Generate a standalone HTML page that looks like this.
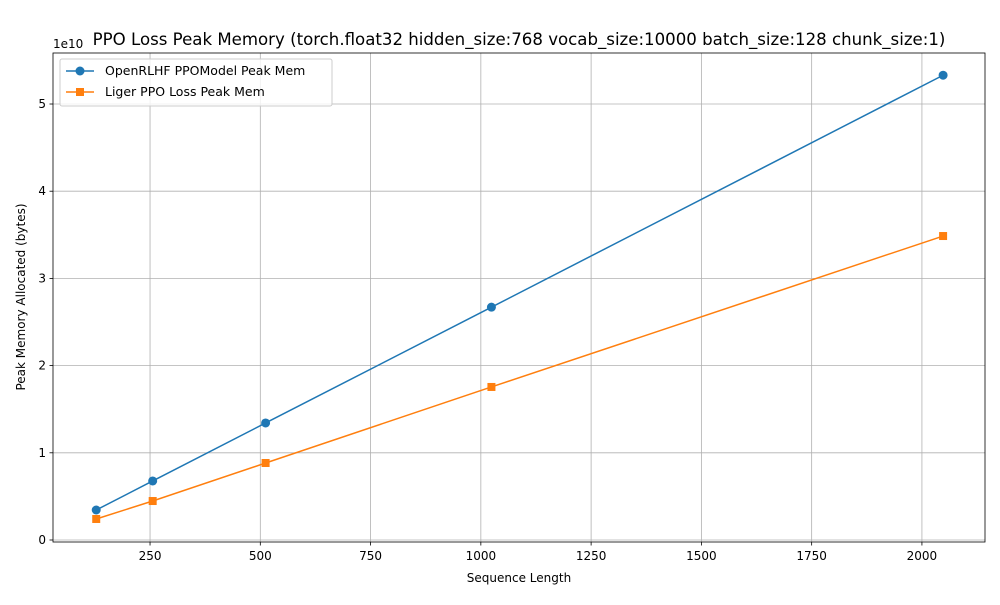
<!DOCTYPE html>
<html><head><meta charset="utf-8"><style>
body{margin:0;background:#fff;font-family:"Liberation Sans","DejaVu Sans",sans-serif;}
svg text{font-family:"DejaVu Sans","Liberation Sans",sans-serif;}
</style></head><body>
<svg id="chart" width="1000" height="600"></svg>
<script>
const seqLengths=[128,256,512,1024,2048];
const openrlhfMem=[3.44,6.77,13.42,26.7,53.3];
const ligerMem=[2.41,4.47,8.83,17.55,34.86];
const xTicks=[250,500,750,1000,1250,1500,1750,2000];
const yTicks=[0,1,2,3,4,5];
const L=53,R=985,T=53,B=542;
const xMin=30,xMax=2143,yMin=-0.023,yMax=5.585;
const sx=v=>L+(v-xMin)/(xMax-xMin)*(R-L);
const sy=v=>B-(v/10-yMin)/(yMax-yMin)*(B-T);
const sy1=v=>B-(v-yMin)/(yMax-yMin)*(B-T);
const svg=document.getElementById('chart');
const NS='http://www.w3.org/2000/svg';
function mk(tag,at,txt){const e=document.createElementNS(NS,tag);for(const k in at)e.setAttribute(k,at[k]);if(txt!==undefined)e.textContent=txt;svg.appendChild(e);return e;}
xTicks.forEach(t=>{const x=sx(t);
let g=mk('line',{x1:x,x2:x,y1:T,y2:B,stroke:'#b0b0b0','stroke-width':0.8});

mk('line',{x1:x,x2:x,y1:B,y2:B+3.5,stroke:'#000','stroke-width':0.8});
let l=mk('text',{x:x,y:B+18,'font-size':12,'text-anchor':'middle'},t);
});
yTicks.forEach(t=>{const y=sy1(t);
let g=mk('line',{x1:L,x2:R,y1:y,y2:y,stroke:'#b0b0b0','stroke-width':0.8});

mk('line',{x1:L-3.5,x2:L,y1:y,y2:y,stroke:'#000','stroke-width':0.8});
let l=mk('text',{x:L-7,y:y+4,'font-size':12,'text-anchor':'end'},t);
});
let fr=mk('rect',{x:L,y:T,width:R-L,height:B-T,fill:'none',stroke:'#000','stroke-width':0.8});

function series(vals,color,marker,name){
const pts=vals.map((v,i)=>sx(seqLengths[i])+','+sy(v)).join(' ');
let p=mk('polyline',{points:pts,fill:'none',stroke:color,'stroke-width':1.5});

vals.forEach((v,i)=>{const x=sx(seqLengths[i]),y=sy(v);let m;
if(marker==='o')m=mk('circle',{cx:x,cy:y,r:4.5,fill:color});
else m=mk('rect',{x:x-4,y:y-4,width:8,height:8,fill:color});
});}
series(openrlhfMem,'#1f77b4','o','openrlhf');
series(ligerMem,'#ff7f0e','s','liger');
let t=mk('text',{x:519,y:45,'font-size':16.6,'text-anchor':'middle'},'PPO Loss Peak Memory (torch.float32 hidden_size:768 vocab_size:10000 batch_size:128 chunk_size:1)');

let e=mk('text',{x:53,y:48,'font-size':12},'1e10');
let xl=mk('text',{x:519,y:582,'font-size':12,'text-anchor':'middle'},'Sequence Length');
let yl=mk('text',{x:25,y:297,'font-size':12,'text-anchor':'middle',transform:'rotate(-90 25 297)'},'Peak Memory Allocated (bytes)');
let lg=mk('rect',{x:60,y:59,width:272,height:47,fill:'#fff','fill-opacity':0.8,stroke:'#ccc',rx:2});

mk('line',{x1:66,x2:94,y1:71,y2:71,stroke:'#1f77b4','stroke-width':1.5});
mk('circle',{cx:80,cy:71,r:4.5,fill:'#1f77b4'});
let a=mk('text',{x:105,y:75,'font-size':12.5},'OpenRLHF PPOModel Peak Mem');
mk('line',{x1:66,x2:94,y1:92,y2:92,stroke:'#ff7f0e','stroke-width':1.5});
mk('rect',{x:76,y:88,width:8,height:8,fill:'#ff7f0e'});
let b=mk('text',{x:105,y:96,'font-size':12.5},'Liger PPO Loss Peak Mem');
</script>
</body></html>
